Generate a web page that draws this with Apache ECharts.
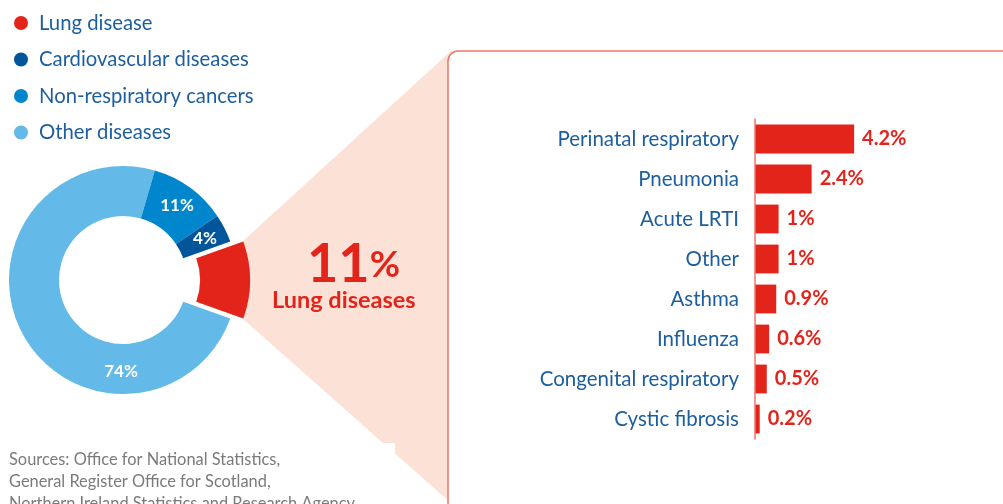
<!DOCTYPE html>
<html>
<head>
<meta charset="utf-8">
<script src="https://cdn.jsdelivr.net/npm/echarts@6/dist/echarts.min.js"></script>
<style>
  html, body { margin: 0; padding: 0; background: #fff; }
  #chart { width: 1003px; height: 504px; }
</style>
</head>
<body>
<div id="chart"></div>
<script>
// donut: share of deaths by cause
const causeNames = ['Lung disease', 'Other diseases', 'Non-respiratory cancers', 'Cardiovascular diseases'];
const causeShares = [11, 74, 11, 4];
const causeColors = ['#E3241B', '#63B9E8', '#0086CC', '#00559B'];
const legendOrder = ['Lung disease', 'Cardiovascular diseases', 'Non-respiratory cancers', 'Other diseases'];

// lung disease breakdown
const lungTypes = ['Perinatal respiratory', 'Pneumonia', 'Acute LRTI', 'Other', 'Asthma',
  'Influenza', 'Congenital respiratory', 'Cystic fibrosis'];
const lungShares = [4.2, 2.4, 1, 1, 0.9, 0.6, 0.5, 0.2];

const sourceLines = [
  'Sources: Office for National Statistics,',
  'General Register Office for Scotland,',
  'Northern Ireland Statistics and Research Agency'
];

const RED = '#E3241B';
const BLUE = '#1C5E9E';
const FONT = 'Lato';

const chart = echarts.init(document.getElementById('chart'));

const pieData = causeNames.map((name, i) => {
  const item = { name, value: causeShares[i], itemStyle: { color: causeColors[i] } };
  if (i === 0) {
    item.selected = true;
    item.label = { show: false };
  }
  if (name === 'Other diseases') {
    item.label = { offset: [80, 50] };
  }
  return item;
});

const option = {
  textStyle: { fontFamily: FONT },
  animation: false,
  legend: {
    orient: 'vertical',
    left: 9,
    top: 8,
    itemGap: 16.5,
    itemWidth: 14,
    itemHeight: 14,
    icon: 'circle',
    selectedMode: false,
    data: legendOrder,
    textStyle: { color: BLUE, fontSize: 20.3, fontFamily: FONT, padding: [0, 0, 0, 6] }
  },
  graphic: [
    // fan joining the lung slice to the breakdown box
    {
      type: 'polygon', z: -10, silent: true,
      shape: { points: [[243, 241], [452, 50], [452, 504], [243, 319]] },
      style: { fill: '#FCE1D6' }
    },
    {
      type: 'rect', z: -9, silent: true,
      shape: { x: 448, y: 51, width: 620, height: 520, r: 10 },
      style: { fill: '#fff', stroke: '#EF7468', lineWidth: 1.5 }
    },
    {
      type: 'rect', z: -9, silent: true,
      shape: { x: 0, y: 443, width: 395, height: 61 },
      style: { fill: '#fff' }
    },
    {
      type: 'text', z: 3, left: 307, top: 238,
      style: {
        text: '{big|11}{pct|%}',
        rich: {
          big: { fontSize: 54, fontWeight: 'bold', fill: RED, fontFamily: FONT },
          pct: { fontSize: 37, fontWeight: 'bold', fill: RED, fontFamily: FONT }
        }
      }
    },
    {
      type: 'text', z: 3, left: 272, top: 288,
      style: { text: 'Lung diseases', fontSize: 23.5, fontWeight: 'bold', fill: RED, fontFamily: FONT }
    },
    {
      type: 'text', z: 3, left: 9, top: 449,
      style: { text: sourceLines.join('\n'), fontSize: 16.4, lineHeight: 21.7, fill: '#7B7B7B', fontFamily: FONT }
    }
  ],
  grid: { left: 755, right: 12, top: 119, bottom: 65, containLabel: false },
  xAxis: { type: 'value', min: 0, max: 10, show: false },
  yAxis: {
    type: 'category',
    inverse: true,
    data: lungTypes,
    z: 5,
    axisLine: { lineStyle: { color: '#EF7468', width: 1.5 } },
    axisTick: { show: false },
    axisLabel: { color: BLUE, fontSize: 20.5, margin: 16, fontFamily: FONT }
  },
  series: [
    {
      type: 'pie',
      center: [123, 280],
      radius: [64, 114],
      startAngle: 19.8,
      clockwise: true,
      selectedMode: 'single',
      selectedOffset: 13,
      emphasis: { disabled: true },
      label: {
        show: true,
        position: 'inside',
        formatter: '{c}%',
        color: '#fff',
        fontSize: 17,
        fontWeight: 'bold',
        fontFamily: FONT
      },
      labelLine: { show: false },
      data: pieData
    },
    {
      type: 'bar',
      data: lungShares,
      barWidth: '72%',
      itemStyle: { color: RED },
      label: {
        show: true,
        position: 'right',
        distance: 8,
        formatter: '{c}%',
        color: RED,
        fontSize: 20,
        fontWeight: 'bold',
        fontFamily: FONT
      }
    }
  ]
};

chart.setOption(option);
</script>
</body>
</html>
